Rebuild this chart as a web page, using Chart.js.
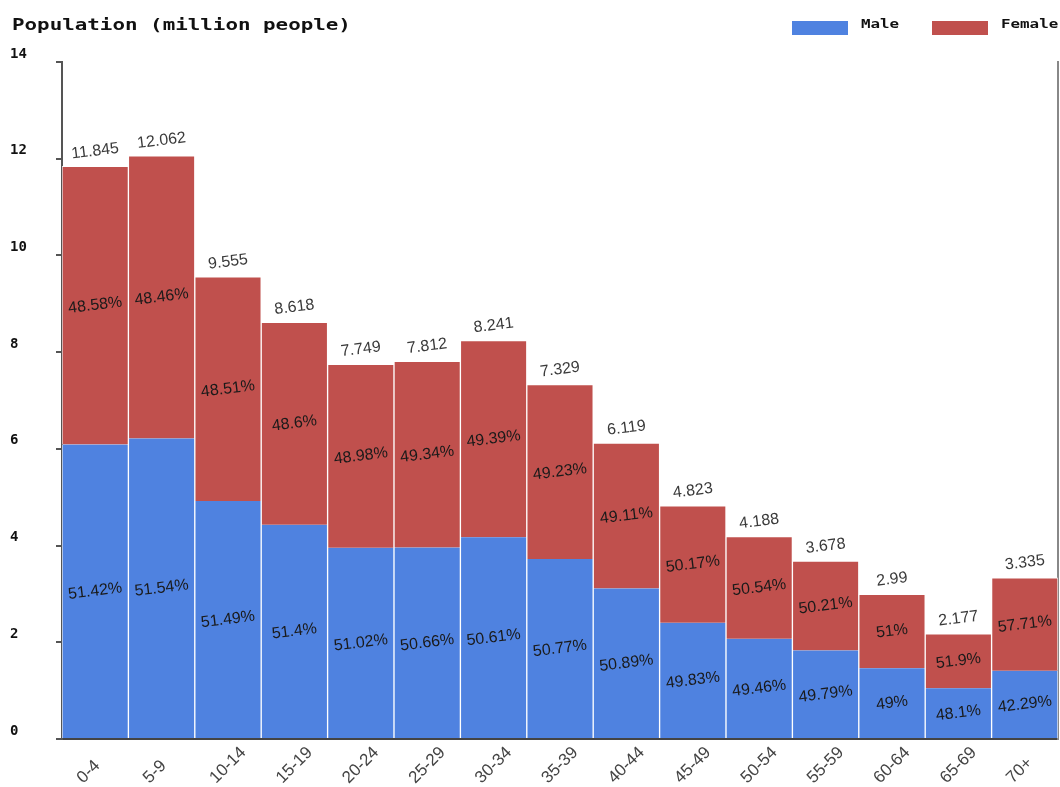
<!DOCTYPE html>
<html>
<head>
<meta charset="utf-8">
<title>Population pyramid</title>
<script src="https://cdn.jsdelivr.net/npm/chart.js@4/dist/chart.umd.min.js"></script>
<style>
  html, body { margin: 0; padding: 0; background: #fff; }
  #wrap { width: 1060px; height: 787px; }
</style>
</head>
<body>
<div id="wrap"><canvas id="pop" width="1060" height="787"></canvas></div>
<script>
var ageGroups = ['0-4', '5-9', '10-14', '15-19', '20-24', '25-29', '30-34', '35-39',
  '40-44', '45-49', '50-54', '55-59', '60-64', '65-69', '70+'];
var totals = [11.845, 12.062, 9.555, 8.618, 7.749, 7.812, 8.241, 7.329,
  6.119, 4.823, 4.188, 3.678, 2.99, 2.177, 3.335];
var malePct = [51.42, 51.54, 51.49, 51.4, 51.02, 50.66, 50.61, 50.77,
  50.89, 49.83, 49.46, 49.79, 49, 48.1, 42.29];
var femalePct = [48.58, 48.46, 48.51, 48.6, 48.98, 49.34, 49.39, 49.23,
  49.11, 50.17, 50.54, 50.21, 51, 51.9, 57.71];

var BLUE = '#4f82e0';
var RED = '#c0504d';

// split each total into male / female millions
var maleValues = totals.map(function (t, i) { return t * malePct[i] / 100; });
var femaleValues = totals.map(function (t, i) { return t * femalePct[i] / 100; });

var tilt = -7 * Math.PI / 180;

function tiltedText(ctx, text, x, y) {
  ctx.save();
  ctx.translate(x, y);
  ctx.rotate(tilt);
  ctx.fillText(text, 0, 0);
  ctx.restore();
}

// wide pixel-ish text: monospace stretched horizontally
function wideText(ctx, text, x, y, stretch) {
  ctx.save();
  ctx.translate(x, y);
  ctx.scale(stretch, 1);
  ctx.fillText(text, 0, 0);
  ctx.restore();
}

var barLabels = {
  id: 'barLabels',
  afterDatasetsDraw: function (chart) {
    var ctx = chart.ctx;
    var male = chart.getDatasetMeta(0).data;
    var female = chart.getDatasetMeta(1).data;
    ctx.save();
    ctx.textAlign = 'center';
    ctx.textBaseline = 'middle';
    ctx.font = '16px "Liberation Sans", Arial, sans-serif';
    ctx.fillStyle = '#1a1a1a';
    male.forEach(function (bar, i) {
      tiltedText(ctx, malePct[i] + '%', bar.x, (bar.y + bar.base) / 2);
    });
    female.forEach(function (bar, i) {
      tiltedText(ctx, femalePct[i] + '%', bar.x, (bar.y + bar.base) / 2);
    });
    ctx.fillStyle = '#3a3a3a';
    female.forEach(function (bar, i) {
      tiltedText(ctx, String(totals[i]), bar.x, bar.y - 15);
    });
    ctx.restore();
  }
};

// age group names, running up and to the right from below each bar
var ageLabels = {
  id: 'ageLabels',
  afterDraw: function (chart) {
    var ctx = chart.ctx;
    var xs = chart.scales.x;
    ctx.save();
    ctx.font = '17px "Liberation Sans", Arial, sans-serif';
    ctx.fillStyle = '#444';
    ctx.textAlign = 'left';
    ctx.textBaseline = 'alphabetic';
    chart.data.labels.forEach(function (lab, i) {
      var px = xs.getPixelForTick(i);
      ctx.save();
      ctx.translate(px - 12, xs.bottom - 3);
      ctx.rotate(-Math.PI / 4);
      ctx.fillText(lab, 0, 0);
      ctx.restore();
    });
    ctx.restore();
  }
};

var header = {
  id: 'header',
  afterDraw: function (chart) {
    var ctx = chart.ctx;
    ctx.save();
    ctx.textBaseline = 'middle';
    ctx.textAlign = 'left';
    ctx.fillStyle = '#111';
    ctx.font = 'bold 15px "DejaVu Sans Mono", monospace';
    wideText(ctx, 'Population (million people)', 12, 26, 1.39);

    ctx.font = 'bold 12px "DejaVu Sans Mono", monospace';
    var items = [
      { label: chart.data.datasets[0].label, color: BLUE, x: 792 },
      { label: chart.data.datasets[1].label, color: RED, x: 932 }
    ];
    items.forEach(function (it) {
      ctx.fillStyle = it.color;
      ctx.fillRect(it.x, 21, 56, 14);
      ctx.fillStyle = '#111';
      wideText(ctx, it.label, it.x + 69, 25, 1.32);
    });
    ctx.restore();
  }
};

var ctx = document.getElementById('pop').getContext('2d');
var chart = new Chart(ctx, {
  type: 'bar',
  data: {
    labels: ageGroups,
    datasets: [
      {
        label: 'Male',
        data: maleValues,
        backgroundColor: BLUE,
        borderColor: 'rgba(255,255,255,0.85)',
        borderWidth: { left: 1, right: 1, top: 0, bottom: 0 },
        categoryPercentage: 1,
        barPercentage: 1
      },
      {
        label: 'Female',
        data: femaleValues,
        backgroundColor: RED,
        borderColor: 'rgba(255,255,255,0.85)',
        borderWidth: { left: 1, right: 1, top: 1, bottom: 0 },
        categoryPercentage: 1,
        barPercentage: 1
      }
    ]
  },
  options: {
    responsive: false,
    animation: false,
    layout: { padding: { top: 62, left: 10, right: 0, bottom: 0 } },
    plugins: {
      legend: { display: false },
      title: { display: false },
      tooltip: { enabled: false }
    },
    scales: {
      x: {
        stacked: true,
        grid: { display: false },
        border: { display: true, color: '#444', width: 2 },
        ticks: { display: false },
        afterFit: function (scale) { scale.height = 48; }
      },
      y: {
        stacked: true,
        min: 0,
        max: 14,
        ticks: {
          stepSize: 2,
          crossAlign: 'far',
          labelOffset: -8,
          color: '#111',
          font: { family: '"DejaVu Sans Mono", monospace', size: 14, weight: 'bold' }
        },
        grid: {
          drawOnChartArea: false,
          drawTicks: true,
          tickLength: 6,
          color: '#555',
          lineWidth: 2
        },
        border: { display: true, color: '#555', width: 2 },
        afterFit: function (scale) { scale.width = 52; }
      },
      yRight: {
        position: 'right',
        min: 0,
        max: 14,
        grid: { display: false },
        ticks: { display: false },
        border: { display: true, color: '#888', width: 2 },
        afterFit: function (scale) { scale.width = 2; }
      }
    }
  },
  plugins: [barLabels, ageLabels, header]
});
</script>
</body>
</html>
